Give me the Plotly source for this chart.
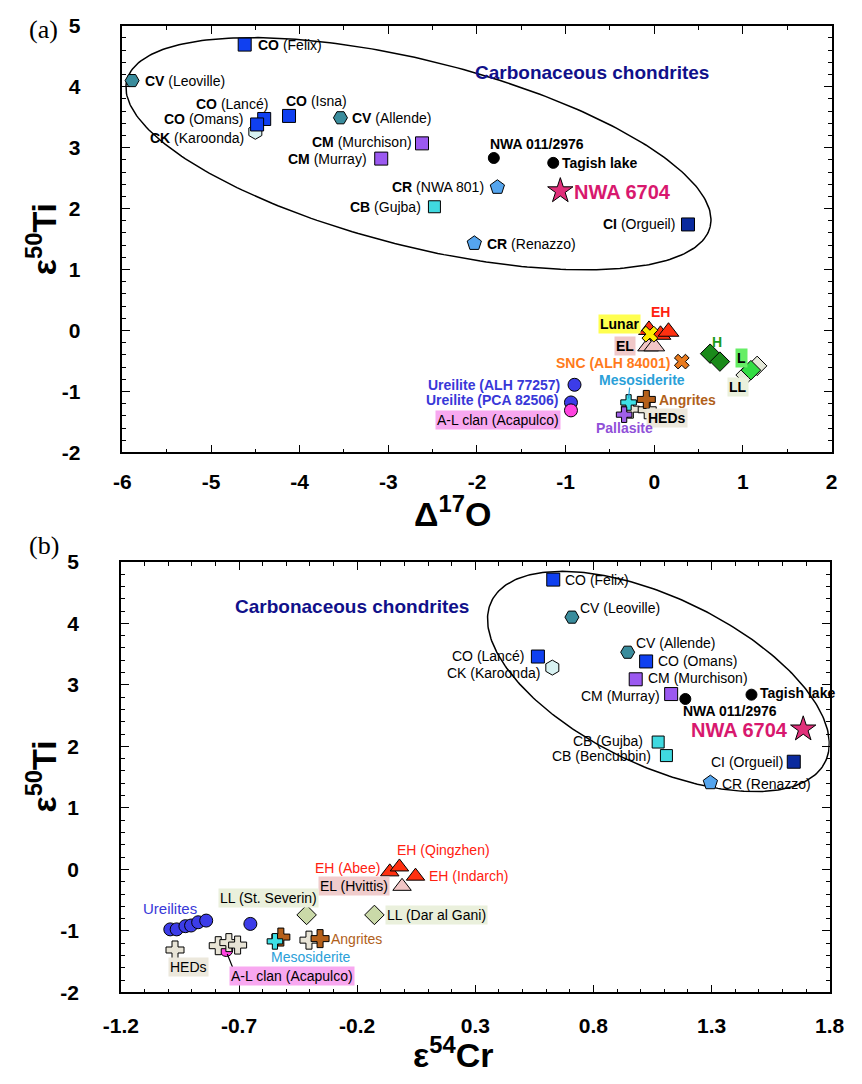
import numpy as np
import plotly.graph_objects as go

# ---------------- Panel (a): D17O vs e50Ti ----------------
a_co_names = ["Felix", "Lancé", "Omans", "Isna"]
a_co_x = [-4.62, -4.40, -4.48, -4.12]
a_co_y = [4.69, 3.47, 3.38, 3.52]
a_cv_names = ["Leoville", "Allende"]
a_cv_x = [-5.89, -3.54]
a_cv_y = [4.10, 3.49]
a_ck_x = [-4.50]
a_ck_y = [3.26]
a_cm_names = ["Murchison", "Murray"]
a_cm_x = [-2.62, -3.08]
a_cm_y = [3.07, 2.82]
a_cb_x = [-2.48]
a_cb_y = [2.03]
a_cr_names = ["NWA 801", "Renazzo"]
a_cr_x = [-1.77, -2.03]
a_cr_y = [2.35, 1.43]
a_ci_x = [0.38]
a_ci_y = [1.74]
a_ung_names = ["NWA 011/2976", "Tagish lake"]
a_ung_x = [-1.81, -1.14]
a_ung_y = [2.83, 2.75]
a_nwa_x = [-1.06]
a_nwa_y = [2.29]
a_eh_x = [-0.06, 0.07, 0.16]
a_eh_y = [0.01, -0.07, -0.02]
a_el_x = [-0.07, 0.00]
a_el_y = [-0.26, -0.26]
a_lun_x = [-0.05]
a_lun_y = [-0.06]
a_snc_x = [0.31]
a_snc_y = [-0.51]
a_h_x = [0.63, 0.74]
a_h_y = [-0.38, -0.51]
a_ll_x = [1.16, 1.03]
a_ll_y = [-0.58, -0.73]
a_l_x = [1.09]
a_l_y = [-0.65]
a_ure_names = ["ALH 77257", "PCA 82506"]
a_ure_x = [-0.90, -0.94]
a_ure_y = [-0.89, -1.18]
a_acp_x = [-0.94]
a_acp_y = [-1.31]
a_hed_x = [-0.27, -0.08]
a_hed_y = [-1.29, -1.30]
a_ang_x = [-0.09]
a_ang_y = [-1.13]
a_mes_x = [-0.29]
a_mes_y = [-1.18]
a_pal_x = [-0.34]
a_pal_y = [-1.38]

# ---------------- Panel (b): e54Cr vs e50Ti ----------------
b_co_names = ["Felix", "Lancé", "Omans"]
b_co_x = [0.63, 0.565, 1.023]
b_co_y = [4.71, 3.46, 3.38]
b_cv_names = ["Leoville", "Allende"]
b_cv_x = [0.709, 0.945]
b_cv_y = [4.10, 3.53]
b_ck_x = [0.626]
b_ck_y = [3.28]
b_cm_names = ["Murchison", "Murray"]
b_cm_x = [0.979, 1.129]
b_cm_y = [3.09, 2.85]
b_ung_names = ["NWA 011/2976", "Tagish lake"]
b_ung_x = [1.189, 1.469]
b_ung_y = [2.77, 2.84]
b_nwa_x = [1.688]
b_nwa_y = [2.28]
b_cb_names = ["Gujba", "Bencubbin"]
b_cb_x = [1.074, 1.109]
b_cb_y = [2.07, 1.85]
b_ci_x = [1.648]
b_ci_y = [1.75]
b_cr_x = [1.295]
b_cr_y = [1.41]
b_eh_names = ["Abee", "Qingzhen", "Indarch"]
b_eh_x = [-0.062, -0.021, 0.047]
b_eh_y = [-0.04, 0.04, -0.11]
b_el_x = [-0.010]
b_el_y = [-0.275]
b_ll_names = ["St. Severin", "Dar al Gani"]
b_ll_x = [-0.414, -0.127]
b_ll_y = [-0.74, -0.74]
b_ure_x = [-0.991, -0.964, -0.927, -0.903, -0.873, -0.839, -0.652]
b_ure_y = [-0.975, -0.975, -0.923, -0.912, -0.859, -0.832, -0.886]
b_acp_x = [-0.754]
b_acp_y = [-1.31]
b_hed_x = [-0.971, -0.788, -0.743, -0.706, -0.404]
b_hed_y = [-1.31, -1.24, -1.19, -1.23, -1.15]
b_ang_x = [-0.523, -0.357]
b_ang_y = [-1.10, -1.125]
b_mes_x = [-0.548]
b_mes_y = [-1.17]

# tick labels
a_xticks = [-6, -5, -4, -3, -2, -1, 0, 1, 2]
a_xtext = ["-6", "-5", "-4", "-3", "-2", "-1", "0", "1", "2"]
yticks = [5, 4, 3, 2, 1, 0, -1, -2]
ytext = ["5", "4", "3", "2", "1", "0", "-1", "-2"]
b_xticks = [-1.2, -0.7, -0.2, 0.3, 0.8, 1.3, 1.8]
b_xtext = ["-1.2", "-0.7", "-0.2", "0.3", "0.8", "1.3", "1.8"]

# ellipse parameters (centre, two conjugate semi-axis vectors in data units)
a_ell = dict(c=(-2.66, 2.90), u=(3.29, -1.20), v=(-0.25, -1.48))
b_ell = dict(c=(1.075, 3.054), u=(0.708, -1.292), v=(-0.148, -1.239))

FONT = "Liberation Sans, Arial, sans-serif"

fig = go.Figure()

STY = {
    "CO": ("square", "#1040f0", 13),
    "CV": ("hexagon2", "#3a8c9c", 14),
    "CK": ("hexagon", "#d8f2f2", 15),
    "CM": ("square", "#9b59f0", 13),
    "CB": ("square", "#40d9e0", 12),
    "CR": ("pentagon", "#55a5ee", 15),
    "CI": ("square", "#0a2a9e", 13),
    "UNG": ("circle", "#000000", 11),
    "NWA": ("star", "#e0307a", 19),
    "EH": ("triangle-up", "#ff3010", 18),
    "EL": ("triangle-up", "#f2c6c6", 18),
    "LUN": ("x", "#ffee00", 14),
    "SNC": ("x", "#e87a1e", 13),
    "H": ("diamond", "#1a8a1a", 15),
    "L": ("diamond", "#33dd44", 15),
    "LL": ("diamond", "#e4e8d8", 15),
    "LLb": ("diamond", "#cad9a8", 15),
    "URE": ("circle", "#3c3ce8", 13),
    "ACP": ("circle", "#ff44e0", 13),
    "HED": ("cross", "#e8e4d6", 15),
    "ANG": ("cross", "#b5601a", 15),
    "MES": ("cross", "#3ee0e6", 13),
    "PAL": ("cross", "#a060e8", 13),
}


def add(xs, ys, key, xa, ya, size=None):
    sym, col, sz = STY[key]
    fig.add_trace(go.Scatter(
        x=xs, y=ys, mode="markers", xaxis=xa, yaxis=ya, hoverinfo="skip",
        marker=dict(symbol=sym, color=col, size=size or sz,
                    line=dict(color="#000000", width=1)),
        showlegend=False))


def ellipse(p, xa, ya):
    t = np.linspace(0, 2 * np.pi, 300)
    ex = p["c"][0] + np.cos(t) * p["u"][0] + np.sin(t) * p["v"][0]
    ey = p["c"][1] + np.cos(t) * p["u"][1] + np.sin(t) * p["v"][1]
    fig.add_trace(go.Scatter(x=ex, y=ey, mode="lines", xaxis=xa, yaxis=ya,
                             line=dict(color="black", width=1.5),
                             hoverinfo="skip", showlegend=False))


# panel a
ellipse(a_ell, "x", "y")
for xs, ys, k in [(a_cv_x, a_cv_y, "CV"), (a_ck_x, a_ck_y, "CK"), (a_co_x, a_co_y, "CO"),
                  (a_cm_x, a_cm_y, "CM"), (a_cb_x, a_cb_y, "CB"), (a_cr_x, a_cr_y, "CR"),
                  (a_ci_x, a_ci_y, "CI"), (a_ung_x, a_ung_y, "UNG"), (a_nwa_x, a_nwa_y, "NWA"),
                  (a_eh_x, a_eh_y, "EH"), (a_el_x, a_el_y, "EL"), (a_lun_x, a_lun_y, "LUN"),
                  (a_snc_x, a_snc_y, "SNC"), (a_h_x, a_h_y, "H"), (a_ll_x, a_ll_y, "LL"),
                  (a_l_x, a_l_y, "L"), (a_ure_x, a_ure_y, "URE"), (a_acp_x, a_acp_y, "ACP"),
                  (a_hed_x, a_hed_y, "HED"), (a_ang_x, a_ang_y, "ANG"), (a_mes_x, a_mes_y, "MES"),
                  (a_pal_x, a_pal_y, "PAL")]:
    add(xs, ys, k, "x", "y")

# panel b
ellipse(b_ell, "x2", "y2")
for xs, ys, k in [(b_cv_x, b_cv_y, "CV"), (b_ck_x, b_ck_y, "CK"), (b_co_x, b_co_y, "CO"),
                  (b_cm_x, b_cm_y, "CM"), (b_cb_x, b_cb_y, "CB"), (b_cr_x, b_cr_y, "CR"),
                  (b_ci_x, b_ci_y, "CI"), (b_ung_x, b_ung_y, "UNG"), (b_nwa_x, b_nwa_y, "NWA"),
                  (b_eh_x, b_eh_y, "EH"), (b_el_x, b_el_y, "EL"), (b_ll_x, b_ll_y, "LLb"),
                  (b_ure_x, b_ure_y, "URE"), (b_acp_x, b_acp_y, "ACP"), (b_hed_x, b_hed_y, "HED"),
                  (b_ang_x, b_ang_y, "ANG"), (b_mes_x, b_mes_y, "MES")]:
    add(xs, ys, k, "x2", "y2", size=(16 if k in ("EH", "EL") else None))

ann = []
shapes = []


def lab(x, y, text, anc, dx, dy, xa="x", ya="y", color="black", size=14, bg=None, bold=False):
    t = "<b>" + text + "</b>" if bold else text
    d = dict(x=x, y=y, xref=xa, yref=ya, text=t, showarrow=False, xanchor=anc,
             yanchor="middle", xshift=dx, yshift=dy,
             font=dict(family=FONT, size=size, color=color))
    if bg:
        d.update(bgcolor=bg, borderpad=1)
    ann.append(d)


def leader(x, y, xa, ya, x0, y0, x1, y1, color):
    shapes.append(dict(type="line", xref=xa, yref=ya, xsizemode="pixel", ysizemode="pixel",
                       xanchor=x, yanchor=y, x0=x0, y0=y0, x1=x1, y1=y1,
                       line=dict(color=color, width=1.2)))


# panel a labels
lab(a_co_x[0], a_co_y[0], "<b>CO</b> (" + a_co_names[0] + ")", "left", 11, 0)
lab(a_co_x[1], a_co_y[1], "<b>CO</b> (" + a_co_names[1] + ")", "right", 6, 15)
lab(a_co_x[2], a_co_y[2], "<b>CO</b> (" + a_co_names[2] + ")", "right", -12, 5)
lab(a_co_x[3], a_co_y[3], "<b>CO</b> (" + a_co_names[3] + ")", "left", -5, 15)
lab(a_cv_x[0], a_cv_y[0], "<b>CV</b> (" + a_cv_names[0] + ")", "left", 11, 0)
lab(a_cv_x[1], a_cv_y[1], "<b>CV</b> (" + a_cv_names[1] + ")", "left", 10, 0)
lab(a_ck_x[0], a_ck_y[0], "<b>CK</b> (Karoonda)", "right", -9, -6)
lab(a_cm_x[0], a_cm_y[0], "<b>CM</b> (" + a_cm_names[0] + ")", "right", -8, 1)
lab(a_cm_x[1], a_cm_y[1], "<b>CM</b> (" + a_cm_names[1] + ")", "right", -12, 0)
lab(a_cb_x[0], a_cb_y[0], "<b>CB</b> (Gujba)", "right", -11, 0)
lab(a_cr_x[0], a_cr_y[0], "<b>CR</b> (" + a_cr_names[0] + ")", "right", -11, 0)
lab(a_cr_x[1], a_cr_y[1], "<b>CR</b> (" + a_cr_names[1] + ")", "left", 11, -1)
lab(a_ci_x[0], a_ci_y[0], "<b>CI</b> (Orgueil)", "right", -11, 0)
lab(a_ung_x[0], a_ung_y[0], a_ung_names[0], "left", -6, 14, bold=True)
lab(a_ung_x[1], a_ung_y[1], a_ung_names[1], "left", 7, 0, bold=True)
lab(a_nwa_x[0], a_nwa_y[0], "NWA 6704", "left", 12, -1, color="#d8186e", size=20, bold=True)
lab(a_eh_x[0], a_eh_y[0], "EH", "center", 12, 18, color="#ff2010", bold=True)
lab(a_lun_x[0], a_lun_y[0], "Lunar", "center", -30, 10, bg="#ffff50", bold=True)
lab(a_el_x[0], a_el_y[0], "EL", "center", -23, 0, bg="#f0c8c8", bold=True)
lab(a_snc_x[0], a_snc_y[0], "SNC (ALH 84001)", "right", -10, -1, color="#ff7a1a", bold=True)
lab(a_h_x[0], a_h_y[0], "H", "center", 7, 12, color="#1a9a1a", bold=True)
lab(a_l_x[0], a_l_y[0], "L", "center", -9, 12, bg="#66ee66", bold=True)
lab(a_ll_x[1], a_ll_y[1], "LL", "center", -8, -12, bg="#eaf0dc", bold=True)
lab(a_mes_x[0], a_mes_y[0], "Mesosiderite", "center", 13, 22, color="#2aa0d8", bold=True)
lab(a_ang_x[0], a_ang_y[0], "Angrites", "left", 11, -1, color="#b0601a", bold=True)
lab(a_hed_x[1], a_hed_y[1], "HEDs", "left", -1, -8, bg="#ece8dc", bold=True)
lab(a_pal_x[0], a_pal_y[0], "Pallasite", "center", 0, -13, color="#9050d8", bold=True)
lab(a_ure_x[0], a_ure_y[0], "Ureilite (" + a_ure_names[0] + ")", "right", -13, 0, color="#3838d8", bold=True)
lab(a_ure_x[1], a_ure_y[1], "Ureilite (" + a_ure_names[1] + ")", "right", -10, 2, color="#3838d8", bold=True)
lab(a_acp_x[0], a_acp_y[0], "A-L clan (Acapulco)", "right", -10, -10, bg="#f8a8f0")
leader(a_mes_x[0], a_mes_y[0], "x", "y", 0, 4, 1, 15, "#2aa0d8")
ann.append(dict(x=-0.70, y=4.23, xref="x", yref="y", text="<b>Carbonaceous chondrites</b>",
                showarrow=False, xanchor="center",
                font=dict(family=FONT, size=19, color="#10108a")))

# panel b labels
X2, Y2 = "x2", "y2"
lab(b_co_x[0], b_co_y[0], "CO (" + b_co_names[0] + ")", "left", 10, 0, X2, Y2)
lab(b_co_x[1], b_co_y[1], "CO (" + b_co_names[1] + ")", "right", -12, 1, X2, Y2)
lab(b_co_x[2], b_co_y[2], "CO (" + b_co_names[2] + ")", "left", 10, 0, X2, Y2)
lab(b_cv_x[0], b_cv_y[0], "CV (" + b_cv_names[0] + ")", "left", 6, 9, X2, Y2)
lab(b_cv_x[1], b_cv_y[1], "CV (" + b_cv_names[1] + ")", "left", 6, 9, X2, Y2)
lab(b_ck_x[0], b_ck_y[0], "CK (Karoonda)", "right", -10, -5, X2, Y2)
lab(b_cm_x[0], b_cm_y[0], "CM (" + b_cm_names[0] + ")", "left", 10, 1, X2, Y2)
lab(b_cm_x[1], b_cm_y[1], "CM (" + b_cm_names[1] + ")", "right", -9, -2, X2, Y2)
lab(b_ung_x[0], b_ung_y[0], b_ung_names[0], "left", -4, -12, X2, Y2, bold=True)
lab(b_ung_x[1], b_ung_y[1], b_ung_names[1], "left", 7, 2, X2, Y2, bold=True)
lab(b_nwa_x[0], b_nwa_y[0], "NWA 6704", "right", -13, -1, X2, Y2, color="#d8186e", size=20, bold=True)
lab(b_cb_x[0], b_cb_y[0], "CB (" + b_cb_names[0] + ")", "right", -13, 1, X2, Y2)
lab(b_cb_x[1], b_cb_y[1], "CB (" + b_cb_names[1] + ")", "right", -13, 0, X2, Y2)
lab(b_ci_x[0], b_ci_y[0], "CI (Orgueil)", "right", -9, 0, X2, Y2)
lab(b_cr_x[0], b_cr_y[0], "CR (Renazzo)", "left", 10, -1, X2, Y2)
lab(b_eh_x[0], b_eh_y[0], "EH (" + b_eh_names[0] + ")", "right", -8, 4, X2, Y2, color="#ff2010")
lab(b_eh_x[1], b_eh_y[1], "EH (" + b_eh_names[1] + ")", "left", -4, 17, X2, Y2, color="#ff2010")
lab(b_eh_x[2], b_eh_y[2], "EH (" + b_eh_names[2] + ")", "left", 11, 0, X2, Y2, color="#ff2010")
lab(b_el_x[0], b_el_y[0], "EL (Hvittis)", "right", -12, 0, X2, Y2, bg="#f0cccc")
lab(b_ll_x[0], b_ll_y[0], "LL (" + b_ll_names[0] + ")", "center", -38, 17, X2, Y2, bg="#eaf0dc")
lab(b_ll_x[1], b_ll_y[1], "LL (" + b_ll_names[1] + ")", "left", 11, 0, X2, Y2, bg="#eaf0dc")
lab(b_ure_x[0], b_ure_y[0], "Ureilites", "center", 0, 21, X2, Y2, color="#3838d8", size=15)
lab(b_hed_x[0], b_hed_y[0], "HEDs", "center", 13, -17, X2, Y2, bg="#ece8dc")
lab(b_acp_x[0], b_acp_y[0], "A-L clan (Acapulco)", "left", 3, -26, X2, Y2, bg="#f8a8f0")
lab(b_mes_x[0], b_mes_y[0], "Mesosiderite", "center", 36, -16, X2, Y2, color="#2aa0d8")
lab(b_ang_x[1], b_ang_y[1], "Angrites", "left", 9, 0, X2, Y2, color="#b0601a")
leader(b_acp_x[0], b_acp_y[0], X2, Y2, 1, -4, 7, -19, "black")
ann.append(dict(x=-0.223, y=4.28, xref=X2, yref=Y2, text="<b>Carbonaceous chondrites</b>",
                showarrow=False, xanchor="center",
                font=dict(family=FONT, size=19, color="#10108a")))

# axis titles and panel letters
TF = dict(family=FONT, size=34, color="black")
W, H = 862, 1084
extra = [
    dict(x=24, y=232, text="<b>ε<sup>50</sup>Ti</b>", textangle=-90, font=TF),
    dict(x=452, y=510, text="<b>Δ<sup>17</sup>O</b>", font=TF),
    dict(x=24, y=781, text="<b>ε<sup>50</sup>Ti</b>", textangle=-90, font=TF),
    dict(x=452, y=1063, text="<b>ε<sup>54</sup>Cr</b>", font=TF),
    dict(x=27, y=18, text="(a)",
         font=dict(family="Liberation Serif, Times New Roman, serif", size=26, color="black")),
    dict(x=27, y=545, text="(b)",
         font=dict(family="Liberation Serif, Times New Roman, serif", size=26, color="black")),
]
for d in extra:
    d.update(xref="paper", yref="paper", x=d["x"] / W, y=1 - d["y"] / H,
             xanchor="center", yanchor="middle", showarrow=False)
    ann.append(d)

TICKF = dict(family=FONT, size=21, color="black")


def axis(domain, rng, tv, tt, minor, standoff, anchor):
    return dict(domain=domain, range=rng, tickvals=tv, ticktext=["<b>" + s + "</b>" for s in tt],
                ticks="inside", ticklen=8, tickwidth=1.2, tickcolor="black", showline=True,
                linewidth=1.6, linecolor="black", mirror="allticks", showgrid=False,
                zeroline=False, tickfont=TICKF, ticklabelstandoff=standoff, anchor=anchor,
                minor=dict(dtick=minor, ticks="inside", ticklen=4, tickwidth=1,
                           tickcolor="black", showgrid=False))


xa = axis([108.5 / W, 846 / W], [-6, 2], a_xticks, a_xtext, 0.5, 10, "y")
ya = axis([1 - 450 / H, 1 - 14 / H], [-2, 5], yticks, ytext, 0.2, 36, "x")
xb = axis([107 / W, 844 / W], [-1.2, 1.8], b_xticks, b_xtext, 0.1, 14, "y2")
yb = axis([1 - 1001.7 / H, 1 - 561.7 / H], [-2, 5], yticks, ytext, 0.2, 36, "x2")
xa["minor"]["tick0"] = -6
xb["minor"]["tick0"] = -1.2
ya["minor"]["tick0"] = -2
yb["minor"]["tick0"] = -2

fig.update_layout(
    width=W, height=H, margin=dict(l=0, r=0, t=0, b=0),
    paper_bgcolor="white", plot_bgcolor="white",
    xaxis=xa, yaxis=ya, xaxis2=xb, yaxis2=yb,
    annotations=ann, shapes=shapes, showlegend=False,
)

fig.write_html("out.html")
